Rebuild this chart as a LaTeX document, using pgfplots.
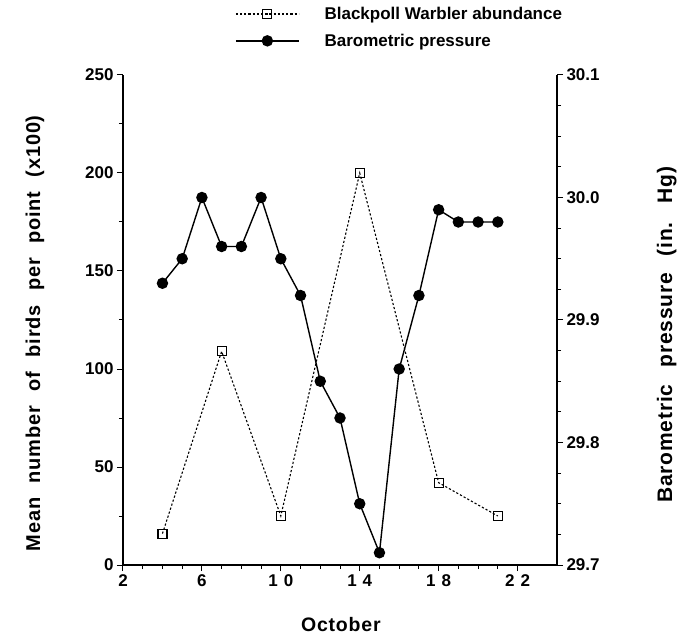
\documentclass[border=0pt]{standalone}
\usepackage{fontspec}
\setmainfont{Liberation Sans}
\newfontfamily\labfam{Liberation Sans}[LetterSpace=4]
\usepackage{pgfplots}
\pgfplotsset{compat=1.18}
\newcommand{\tickfont}{\bfseries\fontsize{17}{20}\selectfont}
\newcommand{\labfont}{\labfam\bfseries\fontsize{20}{24}\selectfont\spaceskip=0.72em plus 0.1em}
\newcommand{\rlabfont}{\labfam\bfseries\fontsize{21}{24}\selectfont\spaceskip=0.8em plus 0.1em}
\newcommand{\xlabfont}{\labfam\bfseries\fontsize{19.5}{23}\selectfont}
\newcommand{\legfont}{\bfseries\fontsize{17}{20}\selectfont}
\pgfplotsset{
  common/.style={
    at={(0pt,0pt)}, anchor=south west, scale only axis,
    width=434pt, height=490pt,
    xmin=2, xmax=24,
    tick align=outside,
    major tick length=6pt, minor tick length=4pt,
    tick style={line width=1pt, black},
    axis line style={-, line width=1.2pt},
    /pgf/number format/assume math mode=true,
    ticklabel style={font=\tickfont},
    label style={font=\labfont},
  },
  legimg/.style={
    legend image code/.code={
      \draw[mark repeat=2, mark phase=2, ##1] plot coordinates {(0pt,0pt) (31.5pt,0pt) (63pt,0pt)};
      \path (86pt,0pt);
    }
  }
}
\begin{document}
\begin{tikzpicture}[x=1pt,y=1pt]
\begin{axis}[common,
  ymin=0, ymax=250,
  axis x line*=bottom, axis y line*=left,
  xtick={2,6,10,14,18,22},
  xticklabels={2,6,1\hspace{0.35em}0,1\hspace{0.35em}4,1\hspace{0.35em}8,2\hspace{0.35em}2},
  minor x tick num=3,
  ytick={0,50,100,150,200,250}, minor y tick num=1,
  xlabel={October},
  xlabel style={at={(axis description cs:0.502,-0.121)}, anchor=center, font=\xlabfont},
  ylabel={Mean number of birds per point (x100)},
  ylabel style={at={(axis description cs:-0.203,0.473)}, anchor=center},
]
\addplot[black, line width=1.1pt, dash pattern=on 2.2pt off 2pt, mark=square, mark size=4.5pt,
  mark options={solid, fill=white, line width=1.1pt}]
  coordinates {(4,16) (7,109) (10,25) (14,200) (18,42) (21,25)};
\end{axis}
\begin{axis}[common, legimg,
  ymin=29.7, ymax=30.1,
  axis x line=none, axis y line*=right,
  ytick={29.7,29.8,29.9,30.0,30.1}, minor y tick num=3,
  yticklabel style={/pgf/number format/.cd, fixed, fixed zerofill, precision=1},
  ylabel={Barometric pressure (in. Hg)},
  ylabel style={at={(axis description cs:1.253,0.47)}, anchor=center, font=\rlabfont},
  legend style={at={(axis description cs:0.258,1.143)}, anchor=north west,
    draw=none, fill=none, inner sep=0pt, row sep=9pt, font=\legfont,
    cells={anchor=west}},
]
\addlegendimage{black, line width=1.1pt, dash pattern=on 2.2pt off 2pt, mark=square, mark size=4.5pt,
  mark options={solid, fill=white, line width=1.1pt}}
\addlegendentry{Blackpoll Warbler abundance}
\addplot[black, line width=1.4pt, mark=*, mark size=5pt]
  coordinates {(4,29.93) (5,29.95) (6,30.00) (7,29.96) (8,29.96) (9,30.00) (10,29.95)
    (11,29.92) (12,29.85) (13,29.82) (14,29.75) (15,29.71) (16,29.86) (17,29.92)
    (18,29.99) (19,29.98) (20,29.98) (21,29.98)};
\addlegendentry{Barometric pressure}
\end{axis}
\pgfresetboundingbox
\path[use as bounding box] (-123,-72) rectangle (567,565);
\end{tikzpicture}
\end{document}
